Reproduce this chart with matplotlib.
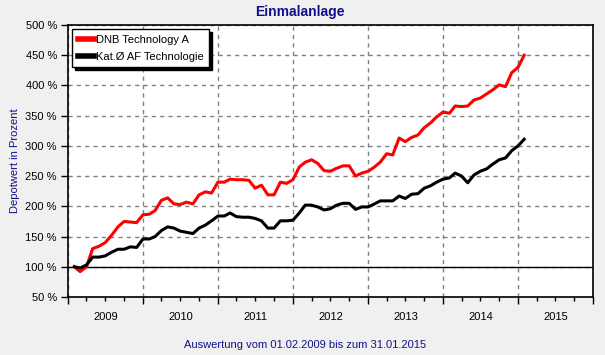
import matplotlib
matplotlib.use("Agg")
import matplotlib.pyplot as plt
import matplotlib.dates as mdates
import matplotlib.transforms as mtransforms
import pandas as pd
import datetime as dt

plt.rcParams['font.family'] = ['Liberation Sans', 'DejaVu Sans']

# ---- data (monthly, Depotwert in %) ----
dates = list(pd.date_range('2009-02-01', periods=73, freq='MS'))
dates[-1] = pd.Timestamp('2015-01-31')

dnb_technology = [100, 92, 100, 130, 134, 140, 152, 166, 175, 174, 173, 186,
                  187, 193, 210, 214, 204, 203, 207, 204, 219, 224, 222, 240,
                  240, 245, 244, 244, 243, 230, 235, 219, 219, 240, 238, 244,
                  265, 273, 277, 271, 259, 258, 263, 267, 267, 250, 255, 258,
                  265, 273, 287, 285, 313, 307, 314, 318, 330, 338, 348, 356,
                  354, 366, 365, 366, 376, 379, 386, 393, 401, 398, 421, 430,
                  450]
kat_af_technologie = [100, 98, 103, 116, 116, 118, 124, 129, 129, 133, 132, 146,
                      146, 150, 160, 166, 164, 159, 157, 155, 164, 169, 176, 184,
                      184, 189, 183, 182, 182, 180, 176, 164, 164, 176, 176, 177,
                      189, 202, 202, 199, 194, 196, 202, 205, 205, 195, 199, 199,
                      204, 209, 209, 209, 217, 213, 220, 221, 230, 234, 240, 245,
                      247, 255, 250, 239, 252, 258, 262, 270, 277, 280, 292, 300,
                      311]
series_names = ['DNB Technology A', 'Kat.\u00d8 AF Technologie']
years = [2009, 2010, 2011, 2012, 2013, 2014, 2015]
y_ticks = [50, 100, 150, 200, 250, 300, 350, 400, 450, 500]

navy = '#10108c'

fig = plt.figure(figsize=(6.05, 3.55), dpi=100, facecolor='#f0f0f0')
ax = fig.add_axes([68/605, 1-297/355, 525/605, 272/355])
ax.set_facecolor('white')

x0 = dt.datetime(2009, 1, 1)
x1 = dt.datetime(2016, 1, 1)
ax.set_xlim(x0, x1)
ax.set_ylim(50, 500)

# grid
ax.set_yticks(y_ticks)
ax.set_yticklabels([f'{v} %' for v in y_ticks], fontsize=8)
ax.xaxis.set_major_locator(mdates.YearLocator())
ax.xaxis.set_minor_locator(mdates.MonthLocator(bymonth=[4, 7, 10]))
ax.xaxis.set_major_formatter(plt.NullFormatter())
ax.grid(True, which='major', color='#808080', linestyle=(0, (3, 3)), linewidth=1)
ax.set_axisbelow(True)
ax.tick_params(axis='x', which='major', length=5, width=1, direction='out')
ax.tick_params(axis='x', which='minor', length=3, width=1, direction='out')
ax.tick_params(axis='y', which='major', length=5, width=1, direction='out', pad=3)

ax.axhline(100, color='black', linewidth=1.0, zorder=2)

ax.plot(dates, dnb_technology, color='#ff0000', linewidth=2.2, label=series_names[0],
        solid_joinstyle='round', zorder=3)
ax.plot(dates, kat_af_technologie, color='black', linewidth=2.2, label=series_names[1],
        solid_joinstyle='round', zorder=3)

for s in ax.spines.values():
    s.set_linewidth(1.2)
    s.set_color('black')

# year labels centered in each year
trans = mtransforms.blended_transform_factory(ax.transData, ax.transAxes)
for yr in years:
    ax.text(dt.datetime(yr, 7, 2), -0.075, str(yr), transform=trans,
            ha='center', va='center', fontsize=8)

leg = ax.legend(loc='upper left', fontsize=8, frameon=True, fancybox=False,
                edgecolor='black', framealpha=1, handlelength=1.4, handletextpad=0.2,
                borderpad=0.5, labelspacing=0.6, borderaxespad=0.4,
                shadow={'color': 'black', 'alpha': 1.0, 'ox': 2, 'oy': -2})
leg.get_frame().set_linewidth(1.0)
for h in leg.get_lines():
    h.set_linewidth(4)

fig.text(300/605, 1-12/355, 'Einmalanlage', ha='center', va='center',
         fontsize=10, fontweight='bold', color=navy)
fig.text(15/605, 1-161/355, 'Depotwert in Prozent', ha='center', va='center',
         rotation=90, fontsize=8, color=navy)
fig.text(305/605, 1-345/355, 'Auswertung vom 01.02.2009 bis zum 31.01.2015',
         ha='center', va='center', fontsize=8, color=navy)

fig.savefig('out.png', dpi=100, facecolor=fig.get_facecolor())
